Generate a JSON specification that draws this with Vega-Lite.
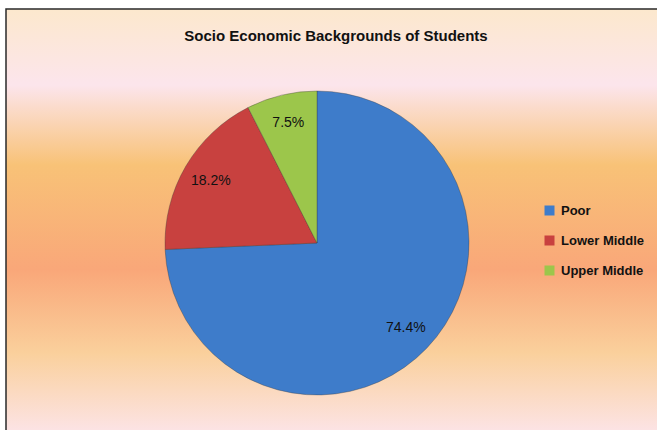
{
  "$schema": "https://vega.github.io/schema/vega-lite/v6.json",
  "width": 660,
  "height": 430,
  "autosize": {"type": "none"},
  "padding": {"left": 6, "top": 9, "right": 0, "bottom": 0},
  "background": "#ffffff",
  "title": {
    "text": "Socio Economic Backgrounds of Students",
    "anchor": "middle",
    "offset": -36,
    "font": "Liberation Sans, Arial, sans-serif",
    "fontSize": 15,
    "fontWeight": "bold",
    "color": "#111111"
  },
  "config": {"view": {"stroke": null}},
  "layer": [
    {
      "data": {"values": [{"bg": 1}]},
      "mark": {
        "type": "rect",
        "stroke": "#2a2a2a",
        "strokeWidth": 1.5,
        "color": {
          "gradient": "linear",
          "x1": 0, "y1": 0, "x2": 0, "y2": 1,
          "stops": [
            {"offset": 0, "color": "#FCE8CD"},
            {"offset": 0.177, "color": "#FCE5EC"},
            {"offset": 0.363, "color": "#F8C277"},
            {"offset": 0.607, "color": "#F9A779"},
            {"offset": 0.8, "color": "#FAD09C"},
            {"offset": 0.98, "color": "#FCE3E4"}
          ]
        }
      },
      "encoding": {}
    },
    {
      "data": {"values": [
        {"category": "Poor", "value": 74.4, "label": "74.4%"},
        {"category": "Lower Middle", "value": 18.2, "label": "18.2%"},
        {"category": "Upper Middle", "value": 7.5, "label": "7.5%"}
      ]},
      "encoding": {
        "theta": {"field": "value", "type": "quantitative", "stack": true},
        "order": {"field": "value", "sort": "descending"}
      },
      "layer": [
        {
          "mark": {"type": "arc", "x": 311, "y": 234, "outerRadius": 152, "stroke": "#3a3a3a", "strokeOpacity": 0.35, "strokeWidth": 1},
          "encoding": {
            "color": {
              "field": "category",
              "type": "nominal",
              "scale": {"domain": ["Poor", "Lower Middle", "Upper Middle"], "range": ["#3E7CCA", "#C8413F", "#9CC64B"]},
              "legend": {
                "title": null,
                "orient": "none",
                "legendX": 537,
                "legendY": 195,
                "symbolType": "square",
                "symbolSize": 100,
                "symbolStrokeWidth": 0,
                "rowPadding": 16,
                "labelFont": "Liberation Sans, Arial, sans-serif",
                "labelFontSize": 13,
                "labelFontWeight": "bold",
                "labelColor": "#111111",
                "labelOffset": 5,
                "padding": 0
              }
            }
          }
        },
        {
          "mark": {"type": "text", "x": 311, "y": 234, "radius": 123, "font": "Liberation Sans, Arial, sans-serif", "fontSize": 14, "color": "#111111"},
          "encoding": {"text": {"field": "label", "type": "nominal"}}
        }
      ]
    }
  ]
}
